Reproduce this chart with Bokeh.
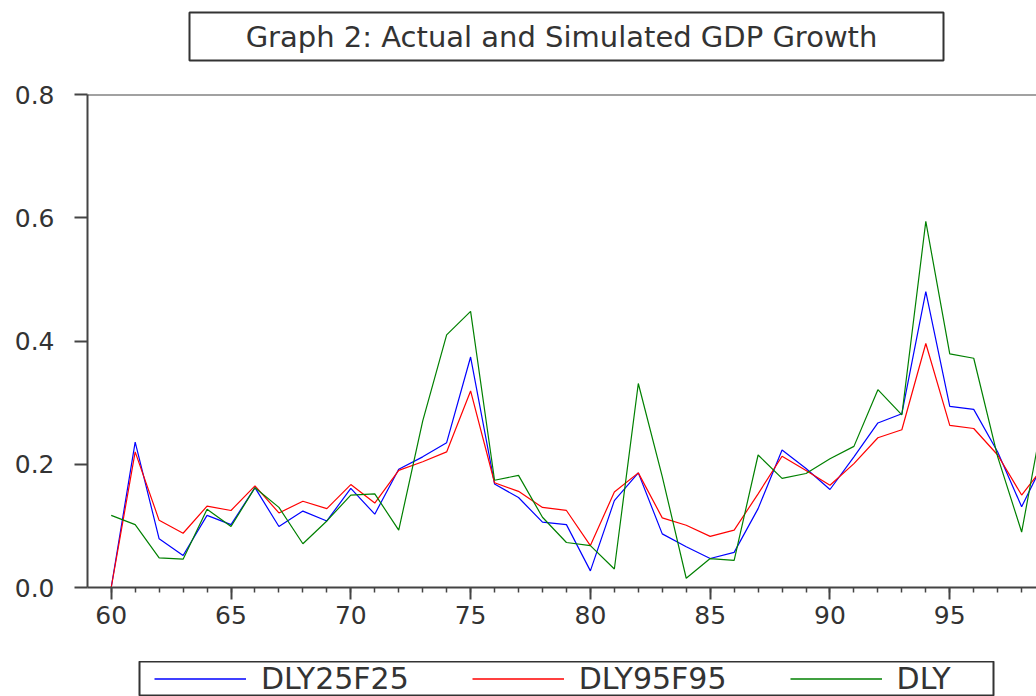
from bokeh.plotting import figure
from bokeh.layouts import column
from bokeh.models import (Range1d, SingleIntervalTicker, PrintfTickFormatter, Span,
                          Legend, LegendItem, Label, ColumnDataSource)
from bokeh.embed import file_html
from bokeh.resources import INLINE

years = list(range(60, 100))
dly25f25 = [0.000, 0.236, 0.079, 0.052, 0.117, 0.102, 0.162, 0.099, 0.124, 0.108,
            0.161, 0.119, 0.192, 0.212, 0.235, 0.374, 0.168, 0.146, 0.106, 0.102,
            0.027, 0.141, 0.186, 0.087, 0.066, 0.047, 0.057, 0.128, 0.223, 0.193,
            0.159, 0.212, 0.267, 0.282, 0.480, 0.294, 0.289, 0.220, 0.131, 0.210]
dly95f95 = [0.000, 0.220, 0.109, 0.088, 0.132, 0.125, 0.165, 0.121, 0.140, 0.128,
            0.167, 0.137, 0.190, 0.204, 0.220, 0.319, 0.170, 0.156, 0.130, 0.125,
            0.068, 0.155, 0.186, 0.113, 0.101, 0.083, 0.093, 0.152, 0.213, 0.190,
            0.166, 0.201, 0.243, 0.256, 0.396, 0.263, 0.258, 0.215, 0.150, 0.200]
dly = [0.117, 0.102, 0.048, 0.046, 0.127, 0.099, 0.162, 0.130, 0.071, 0.108,
       0.150, 0.152, 0.093, 0.270, 0.410, 0.448, 0.174, 0.182, 0.114, 0.073,
       0.068, 0.030, 0.331, 0.180, 0.015, 0.047, 0.044, 0.215, 0.177, 0.185,
       0.209, 0.229, 0.321, 0.280, 0.594, 0.379, 0.372, 0.212, 0.090, 0.300]
series_names = ["DLY25F25", "DLY95F95", "DLY"]
series_colors = ["#0000ff", "#ff0000", "#008000"]
title_text = "Graph 2: Actual and Simulated GDP Growth"

FONT = "DejaVu Sans"
AX = "#444444"
TXT = "#333333"
W = 1036

src = ColumnDataSource(dict(x=years, a=dly25f25, b=dly95f95, c=dly))
cols = ["a", "b", "c"]

# ---------- title strip ----------
t = figure(width=W, height=70, output_backend="svg", toolbar_location=None,
           x_range=Range1d(0, 1), y_range=Range1d(0, 1),
           x_axis_type=None, y_axis_type=None, frame_align=False,
           min_border_left=189, min_border_right=W - 943,
           min_border_top=12, min_border_bottom=10)
t.grid.visible = False
t.outline_line_color = "#333333"
t.outline_line_width = 2
t.add_layout(Label(x=0.5, y=0.5, x_offset=-5, y_offset=0, text=title_text,
                   text_align="center", text_baseline="middle",
                   text_font=FONT, text_font_size="29px", text_color=TXT))

# ---------- main chart ----------
p = figure(width=W, height=591, output_backend="svg", toolbar_location=None,
           x_range=Range1d(59.01, 98.62), y_range=Range1d(0, 0.8),
           frame_align=False,
           min_border_left=87, min_border_right=0, min_border_top=24,
           min_border_bottom=74)
p.outline_line_color = None
p.grid.visible = False

for col, color in zip(cols, series_colors):
    p.line("x", col, source=src, line_color=color, line_width=1.2)

p.xaxis.ticker = SingleIntervalTicker(interval=5, num_minor_ticks=5)
p.xaxis.axis_line_color = AX
p.xaxis.axis_line_width = 2
p.xaxis.major_tick_out = 12
p.xaxis.major_tick_in = 0
p.xaxis.minor_tick_out = 5
p.xaxis.minor_tick_in = 0
p.xaxis.major_tick_line_color = AX
p.xaxis.minor_tick_line_color = AX
p.xaxis.major_tick_line_width = 2
p.xaxis.minor_tick_line_width = 1.5
p.xaxis.major_label_text_font = FONT
p.xaxis.major_label_text_font_size = "25px"
p.xaxis.major_label_text_color = TXT
p.xaxis.major_label_standoff = 6

p.yaxis.ticker = SingleIntervalTicker(interval=0.2, num_minor_ticks=0)
p.yaxis.formatter = PrintfTickFormatter(format="%.1f")
p.yaxis.axis_line_color = AX
p.yaxis.axis_line_width = 2
p.yaxis.major_tick_out = 13
p.yaxis.major_tick_in = 0
p.yaxis.minor_tick_line_color = None
p.yaxis.major_tick_line_color = AX
p.yaxis.major_tick_line_width = 2
p.yaxis.major_label_text_font = FONT
p.yaxis.major_label_text_font_size = "25px"
p.yaxis.major_label_text_color = TXT
p.yaxis.major_label_standoff = 20

p.add_layout(Span(location=0.8, dimension="width", line_color=AX, line_width=2))

# ---------- legend strip ----------
lg = figure(width=W, height=35, output_backend="svg", toolbar_location=None,
            x_range=Range1d(0, 1), y_range=Range1d(0, 1),
            x_axis_type=None, y_axis_type=None, frame_align=False,
            min_border_left=139, min_border_right=W - 993,
            min_border_top=0, min_border_bottom=0)
lg.grid.visible = False
lg.outline_line_color = "#333333"
lg.outline_line_width = 2
key_renderers = [lg.line("x", col, source=src, line_color=color, line_width=1.6)
                 for col, color in zip(cols, series_colors)]
items = [LegendItem(label=n, renderers=[r]) for n, r in zip(series_names, key_renderers)]
legend = Legend(items=items, orientation="horizontal", location=(15, 0),
                padding=0, margin=0, spacing=63, label_standoff=15, glyph_width=92,
                glyph_height=35, label_height=35,
                label_text_font=FONT, label_text_font_size="30px",
                label_text_color=TXT, border_line_color=None,
                background_fill_alpha=0)
lg.add_layout(legend, "center")

layout = column(t, p, lg, spacing=0)
open("out.html", "w").write(file_html(layout, INLINE))
